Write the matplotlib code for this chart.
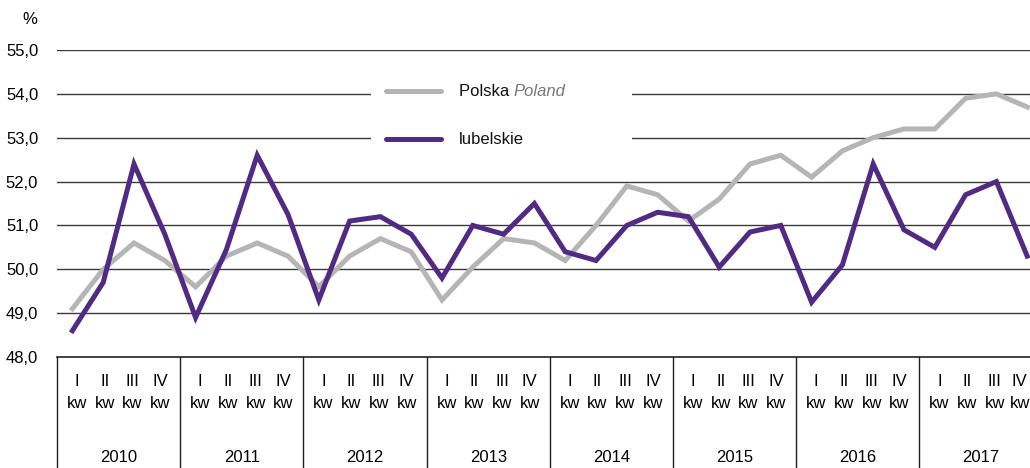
import matplotlib
matplotlib.use("Agg")
import matplotlib.pyplot as plt
from matplotlib.patches import Rectangle

plt.rcParams['font.family'] = ['Liberation Sans', 'DejaVu Sans']

years = ["2010", "2011", "2012", "2013", "2014", "2015", "2016", "2017"]
quarters = ["I", "II", "III", "IV"]
quarter_suffix = "kw"
polska = [49.1, 50.0, 50.6, 50.2,
          49.6, 50.3, 50.6, 50.3,
          49.6, 50.3, 50.7, 50.4,
          49.3, 50.05, 50.7, 50.6,
          50.2, 51.0, 51.9, 51.7,
          51.1, 51.6, 52.4, 52.6,
          52.1, 52.7, 53.0, 53.2,
          53.2, 53.9, 54.0, 53.7]
lubelskie = [48.6, 49.7, 52.4, 50.8,
             48.9, 50.45, 52.6, 51.25,
             49.3, 51.1, 51.2, 50.8,
             49.8, 51.0, 50.8, 51.5,
             50.4, 50.2, 51.0, 51.3,
             51.2, 50.05, 50.85, 51.0,
             49.25, 50.1, 52.4, 50.9,
             50.5, 51.7, 52.0, 50.3]
yticks = [48, 49, 50, 51, 52, 53, 54, 55]

GRAY = "#b5b5b5"
PURPLE = "#512a84"
FS = 12

W, H = 1030, 468
fig = plt.figure(figsize=(W / 100, H / 100), dpi=100)
left = 57 / W
bottom = 1 - 357 / H
top = 1 - 50 / H
ax = fig.add_axes([left, bottom, 1 - left, top - bottom])
x = list(range(len(polska)))
xmax = -0.5 + (W - 57) / 30.8
ax.set_xlim(-0.5, xmax)
ax.set_ylim(48, 55)

for s in ax.spines.values():
    s.set_visible(False)
ax.set_xticks([])
ax.set_yticks(yticks)
ax.set_yticklabels([f"{v:.1f}".replace(".", ",") for v in yticks], fontsize=FS)
ax.tick_params(axis="y", length=0, pad=13.5)

for v in yticks[1:]:
    ax.axhline(v, color="#3a3a3a", lw=1.0, zorder=1)
ax.axhline(48, color="#222222", lw=1.2, zorder=1, clip_on=False)

ax.plot(x, polska, color=GRAY, lw=3.6, zorder=3, solid_joinstyle="miter")
ax.plot(x, lubelskie, color=PURPLE, lw=3.6, zorder=4, solid_joinstyle="miter")

# legend box (white background interrupting gridlines)
def px2data(px, py):
    dx = -0.5 + (px - 57) / 30.8
    dy = 48 + (357 - py) / ((357 - 50) / 7)
    return dx, dy

x0, y0 = px2data(371, 160)
x1, y1 = px2data(632, 70)
ax.add_patch(Rectangle((x0, y0), x1 - x0, y1 - y0, facecolor="white",
                       edgecolor="none", zorder=2))
lx0, ly0 = px2data(386, 91)
lx1, _ = px2data(441, 91)
ax.plot([lx0, lx1], [ly0, ly0], color=GRAY, lw=3.6, solid_capstyle="round", zorder=3)
tx, _ = px2data(459, 91)
t = ax.text(tx, ly0, "Polska ", fontsize=FS, va="center", ha="left", color="#111111", zorder=5)
fig.canvas.draw()
bb = t.get_window_extent()
inv = ax.transData.inverted()
tx2 = inv.transform((bb.x1, bb.y0))[0]
ax.text(tx2, ly0, "Poland", fontsize=FS, va="center", ha="left", color="#777777",
        style="italic", zorder=5)
_, ly1 = px2data(0, 139)
ax.plot([lx0, lx1], [ly1, ly1], color=PURPLE, lw=3.6, solid_capstyle="round", zorder=3)
ax.text(tx, ly1, "lubelskie", fontsize=FS, va="center", ha="left", color="#111111", zorder=5)

# % label
fig.text(30 / W, 1 - 20 / H, "%", fontsize=FS, ha="center", va="center")

# category table below
trans = ax.get_xaxis_transform()
def ypx(py):
    return (1 - py / H - bottom) / (top - bottom)

for i in range(len(years) + 1):
    xb = -0.5 + 4 * i
    if xb <= xmax:
        ax.plot([xb, xb], [ypx(357), ypx(470)], transform=trans, color="#222222",
                lw=1.0, clip_on=False)

xlim_right_data = xmax
for yi, yr in enumerate(years):
    center = 4 * yi + 1.5
    ax.text(center, ypx(458), yr, transform=trans, ha="center", va="center",
            fontsize=FS, clip_on=False)
    for qi, q in enumerate(quarters):
        qx = center + (qi - 1.5) * 0.9
        # keep the last label inside the figure
        qx = min(qx, xlim_right_data - 0.33)
        ax.text(qx, ypx(382), q, transform=trans, ha="center", va="center",
                fontsize=FS, clip_on=False)
        ax.text(qx, ypx(404), quarter_suffix, transform=trans, ha="center", va="center",
                fontsize=FS, clip_on=False)

fig.savefig("out.png", dpi=100)
